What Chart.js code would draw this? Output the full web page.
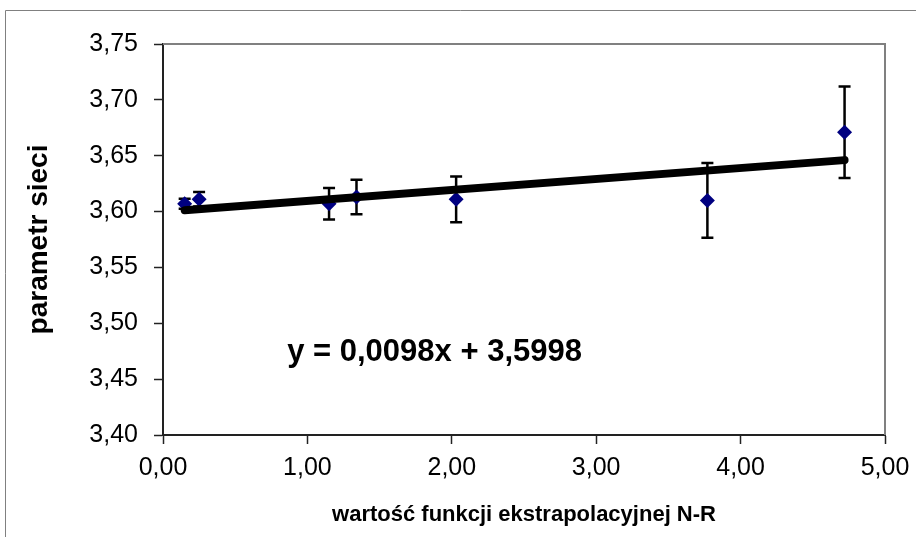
<!DOCTYPE html>
<html>
<head>
<meta charset="utf-8">
<script src="https://cdn.jsdelivr.net/npm/chart.js@4"></script>
<style>
  html, body { margin: 0; padding: 0; background: #fff; }
  canvas { display: block; }
</style>
</head>
<body>
<canvas id="chart" width="916" height="537"></canvas>
<script>
// measured points (x = N-R extrapolation function, y = lattice parameter)
const xValues = [0.15, 0.25, 1.15, 1.34, 2.03, 3.77, 4.72];
const yValues = [3.607, 3.611, 3.607, 3.613, 3.611, 3.610, 3.671];
const yErrors = [0.0045, 0.0065, 0.014, 0.0155, 0.0205, 0.0335, 0.041];

// linear trend shown on the chart
const slope = 0.0098;
const intercept = 3.5998;
const equationText = 'y = 0,0098x + 3,5998';

const yTickMin = 3.40, yTickMax = 3.75, yTickStep = 0.05;
const xTickMin = 0, xTickMax = 5, xTickStep = 1;

const fmt = v => v.toFixed(2).replace('.', ',');

const points = xValues.map((x, i) => ({ x: x, y: yValues[i] }));
const xFirst = Math.min(...xValues), xLast = Math.max(...xValues);
const trend = [
  { x: xFirst, y: slope * xFirst + intercept },
  { x: xLast, y: slope * xLast + intercept }
];

const framePlugin = {
  id: 'frame',
  beforeDraw(chart) {
    const ctx = chart.ctx;
    ctx.save();
    ctx.strokeStyle = '#808080';
    ctx.lineWidth = 1;
    ctx.beginPath();
    ctx.moveTo(5.5, 537);
    ctx.lineTo(5.5, 10.5);
    ctx.lineTo(916, 10.5);
    ctx.stroke();
    ctx.restore();
  },
  afterDraw(chart) {
    const a = chart.chartArea, ctx = chart.ctx;
    ctx.save();
    ctx.strokeStyle = '#808080';
    ctx.lineWidth = 2;
    ctx.beginPath();
    ctx.moveTo(a.left, a.top);
    ctx.lineTo(a.right, a.top);
    ctx.lineTo(a.right, a.bottom);
    ctx.stroke();
    // equation label
    const xs = chart.scales.x, ys = chart.scales.y;
    ctx.fillStyle = '#000';
    ctx.font = 'bold 31px "Liberation Sans", Arial, sans-serif';
    ctx.textBaseline = 'middle';
    ctx.textAlign = 'left';
    ctx.fillText(equationText, xs.getPixelForValue(0.86), ys.getPixelForValue(3.474));
    ctx.restore();
  }
};

const errorBarPlugin = {
  id: 'errorBars',
  beforeDatasetsDraw(chart) {
    const ctx = chart.ctx, xs = chart.scales.x, ys = chart.scales.y;
    ctx.save();
    ctx.strokeStyle = '#000';
    ctx.lineWidth = 2.5;
    xValues.forEach((x, i) => {
      const px = xs.getPixelForValue(x);
      const top = ys.getPixelForValue(yValues[i] + yErrors[i]);
      const bot = ys.getPixelForValue(yValues[i] - yErrors[i]);
      ctx.beginPath();
      ctx.moveTo(px, top); ctx.lineTo(px, bot);
      ctx.moveTo(px - 6, top); ctx.lineTo(px + 6, top);
      ctx.moveTo(px - 6, bot); ctx.lineTo(px + 6, bot);
      ctx.stroke();
    });
    ctx.restore();
  }
};

const tickFont = { family: '"Liberation Sans", Arial, sans-serif', size: 25 };
const xTitleFont = { family: '"Liberation Sans", Arial, sans-serif', size: 22, weight: 'bold' };
const yTitleFont = { family: '"Liberation Sans", Arial, sans-serif', size: 28, weight: 'bold' };

new Chart(document.getElementById('chart').getContext('2d'), {
  type: 'scatter',
  data: {
    datasets: [
      {
        label: 'trend',
        data: trend,
        showLine: true,
        borderColor: '#000',
        borderWidth: 8,
        borderCapStyle: 'round',
        pointRadius: 0,
        order: 0
      },
      {
        label: 'parametr sieci',
        data: points,
        pointStyle: 'rectRot',
        pointRadius: 7.5,
        pointBackgroundColor: '#000080',
        pointBorderColor: '#000080',
        pointBorderWidth: 0,
        order: 1
      }
    ]
  },
  options: {
    responsive: false,
    animation: false,
    layout: { padding: { left: 0, top: 44, right: 31, bottom: 0 } },
    plugins: {
      legend: { display: false },
      tooltip: { enabled: false }
    },
    scales: {
      x: {
        type: 'linear',
        min: xTickMin,
        max: xTickMax,
        afterFit: s => { s.height = 102; s.paddingLeft = 0; s.paddingRight = 0; },
        grid: { drawOnChartArea: false, tickLength: 9, tickColor: '#222', tickWidth: 1.5 },
        border: { color: '#222', width: 2 },
        ticks: { stepSize: xTickStep, color: '#000', font: tickFont, padding: 9, callback: fmt, maxRotation: 0 },
        title: { display: true, text: 'wartość funkcji ekstrapolacyjnej N-R', color: '#000', font: xTitleFont, padding: { top: 0, bottom: 9 } }
      },
      y: {
        min: yTickMin,
        max: yTickMax,
        afterFit: s => { s.width = 163; s.paddingTop = 0; s.paddingBottom = 0; },
        grid: { drawOnChartArea: false, tickLength: 9, tickColor: '#222', tickWidth: 1.5 },
        border: { color: '#222', width: 2 },
        ticks: { stepSize: yTickStep, color: '#000', font: tickFont, padding: 16, callback: fmt },
        title: { display: true, text: 'parametr sieci', color: '#000', font: yTitleFont, padding: { top: 22, bottom: 0 } }
      }
    }
  },
  plugins: [framePlugin, errorBarPlugin]
});
</script>
</body>
</html>
